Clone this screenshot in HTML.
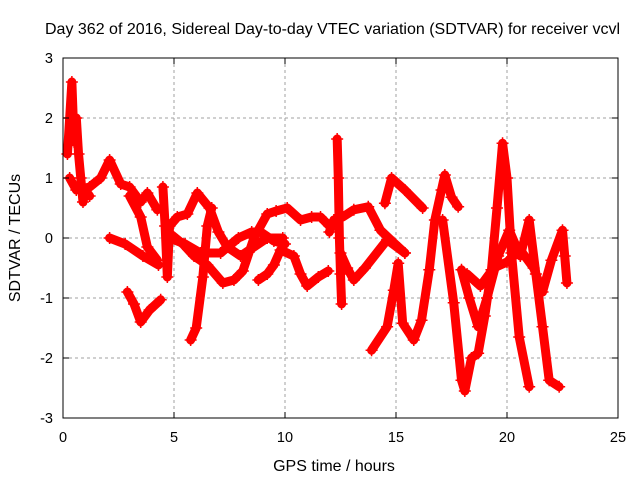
<!DOCTYPE html>
<html><head><meta charset="utf-8"><style>
body{margin:0;background:#fff}
svg{display:block;font-family:"Liberation Sans",sans-serif}
</style></head><body>
<svg id="chart" width="640" height="480">
<text x="45" y="34" font-size="16" text-anchor="start">Day 362 of 2016, Sidereal Day-to-day VTEC variation (SDTVAR) for receiver vcvl</text>
<text x="334" y="471" font-size="16" text-anchor="middle">GPS time / hours</text>
<text transform="translate(20,238) rotate(-90)" font-size="16" text-anchor="middle">SDTVAR / TECUs</text>
<g id="grid"></g><g id="marks"></g><g id="axes"></g>
</svg>
<script>
const xTicks=[0,5,10,15,20,25];
const yTicks=[-3,-2,-1,0,1,2,3];
const tA=[0.2,0.3,0.4,0.5,0.6,0.7,0.8,0.9,1.0,1.2];
const vA=[1.4,2.0,2.6,1.6,2.0,1.4,1.0,0.6,0.8,0.7];
const tB=[0.3,0.6,1.2,1.7,2.1,2.6,3.0,3.5,3.8,4.25];
const vB=[1.0,0.8,0.85,1.0,1.3,0.9,0.85,0.6,0.75,0.47];
const tC=[3.0,3.5,3.8,4.25];
const vC=[0.7,0.35,-0.15,-0.37];
const tD=[2.1,2.8,3.6,4.3];
const vD=[0,-0.1,-0.3,-0.45];
const tE=[2.9,3.2,3.5,3.9,4.4];
const vE=[-0.9,-1.1,-1.4,-1.2,-1.03];
const tF=[4.5,4.6,4.7,4.8,5.15,5.6,6.05,6.6,7.0,7.4,8.0,8.6,9.2,9.9];
const vF=[0.85,0.2,-0.65,0.2,0.35,0.4,0.75,0.5,0.1,-0.15,-0.3,-0.15,0,0];
const tG=[5.75,6.0,6.3,6.5,6.7];
const vG=[-1.7,-1.5,-0.65,0.2,0.5];
const tH=[4.9,5.4,5.9,6.5,7.2,7.7,8.1,8.6,9.2,9.6,10.1,10.7,11.2,11.6,12.0];
const vH=[0.05,-0.1,-0.3,-0.45,-0.75,-0.7,-0.55,0,0.4,0.45,0.5,0.3,0.35,0.35,0.2];
const tI=[4.8,5.5,6.2,7.1,7.9,8.5,8.9,9.5,10.0];
const vI=[0.0,-0.1,-0.25,-0.25,0,0.1,0.1,-0.05,-0.1];
const tJ=[8.8,9.2,9.5,9.8,10.4,10.7,11.0,11.5,11.95];
const vJ=[-0.7,-0.6,-0.45,-0.2,-0.3,-0.6,-0.8,-0.65,-0.55];
const tK=[12.35,12.4,12.45,12.5,12.55];
const vK=[1.65,1.0,0.0,-0.6,-1.1];
const tL=[12.0,12.2,12.6,13.1,13.75,14.3,14.9,15.4];
const vL=[0.1,0.3,0.35,0.47,0.52,0.13,-0.08,-0.25];
const tM=[12.5,12.8,13.1,13.6,14.6,15.4];
const vM=[-0.25,-0.5,-0.7,-0.5,-0.03,-0.25];
const tN=[14.5,14.8,15.4,16.2];
const vN=[0.58,1.0,0.8,0.5];
const tO=[13.9,14.6,14.9,15.1,15.3,15.8,16.15,16.5,16.75,17.05,17.2,17.5,17.8];
const vO=[-1.87,-1.48,-0.87,-0.42,-1.42,-1.7,-1.37,-0.53,0.3,0.8,1.05,0.68,0.52];
const tP=[17.1,17.6,17.95,18.1,18.4,18.7,19.0,19.3,19.55,19.8,20.0,20.2,20.55,21.0];
const vP=[0.3,-1.08,-2.37,-2.55,-2.0,-1.92,-1.3,-0.53,0.5,1.58,1.0,-0.25,-1.65,-2.48];
const tQ=[17.95,18.3,18.7,19.1,19.6,20.1,20.6,21.0,21.3,21.6,21.9,22.35];
const vQ=[-0.53,-1.0,-1.48,-1.0,-0.3,0.13,-0.3,0.3,-0.6,-1.48,-2.37,-2.48];
const tR=[18.2,18.8,19.4,20.0,20.6,21.2,21.6,22.0,22.5,22.6,22.7];
const vR=[-0.6,-0.8,-0.5,-0.4,-0.2,-0.5,-0.9,-0.37,0.13,-0.3,-0.75];
const series=[[tA,vA],[tB,vB],[tC,vC],[tD,vD],[tE,vE],[tF,vF],[tG,vG],[tH,vH],[tI,vI],[tJ,vJ],[tK,vK],[tL,vL],[tM,vM],[tN,vN],[tO,vO],[tP,vP],[tQ,vQ],[tR,vR]];
const X0=63,X1=618,Y0=418,Y1=58;
const xs=t=>X0+(t-0)/(25-0)*(X1-X0);
const ys=v=>Y0-(v+3)/6*(Y0-Y1);
const NS="http://www.w3.org/2000/svg";
function mk(tag,attrs,parent){const e=document.createElementNS(NS,tag);for(const k in attrs)e.setAttribute(k,attrs[k]);parent.appendChild(e);return e;}
const grid=document.getElementById('grid'),axes=document.getElementById('axes'),marks=document.getElementById('marks');
xTicks.forEach(t=>{
 if(t>0&&t<25){const g=mk('line',{x1:xs(t),x2:xs(t),y1:Y1,y2:Y0,stroke:'#a0a0a0','stroke-dasharray':'3,3'},grid);
 
 }
 const tk=mk('path',{d:`M${xs(t)},${Y0}v-6M${xs(t)},${Y1}v6`,stroke:'#000'},axes);
 
 
 const lb=mk('text',{x:xs(t),y:Y0+24,'font-size':14.5,'text-anchor':'middle'},axes);lb.textContent=t;
 
 
});
yTicks.forEach(v=>{
 if(v>-3&&v<3){const g=mk('line',{x1:X0,x2:X1,y1:ys(v),y2:ys(v),stroke:'#a0a0a0','stroke-dasharray':'3,3'},grid);
 
 }
 const tk=mk('path',{d:`M${X0},${ys(v)}h6M${X1},${ys(v)}h-6`,stroke:'#000'},axes);
 
 
 const lb=mk('text',{x:X0-10,y:ys(v)+5,'font-size':14.5,'text-anchor':'end'},axes);lb.textContent=v;
 
 
});
const fr=mk('rect',{x:X0,y:Y1,width:X1-X0,height:Y0-Y1,fill:'none',stroke:'#000'},axes);


series.forEach(([ts,vs],i)=>{
 const pts=ts.map((t,j)=>xs(t)+','+ys(vs[j])).join(' ');
 const pl=mk('polyline',{points:pts,fill:'none',stroke:'#f00','stroke-width':9,'stroke-linejoin':'round','stroke-linecap':'round'},marks);
 
 
 ts.forEach((t,j)=>{
  const p=mk('path',{d:`M${xs(t)-6},${ys(vs[j])}h12M${xs(t)},${ys(vs[j])-6}v12`,stroke:'#f00','stroke-width':1.5},marks);
  
  
 });
});
</script>
</body></html>
